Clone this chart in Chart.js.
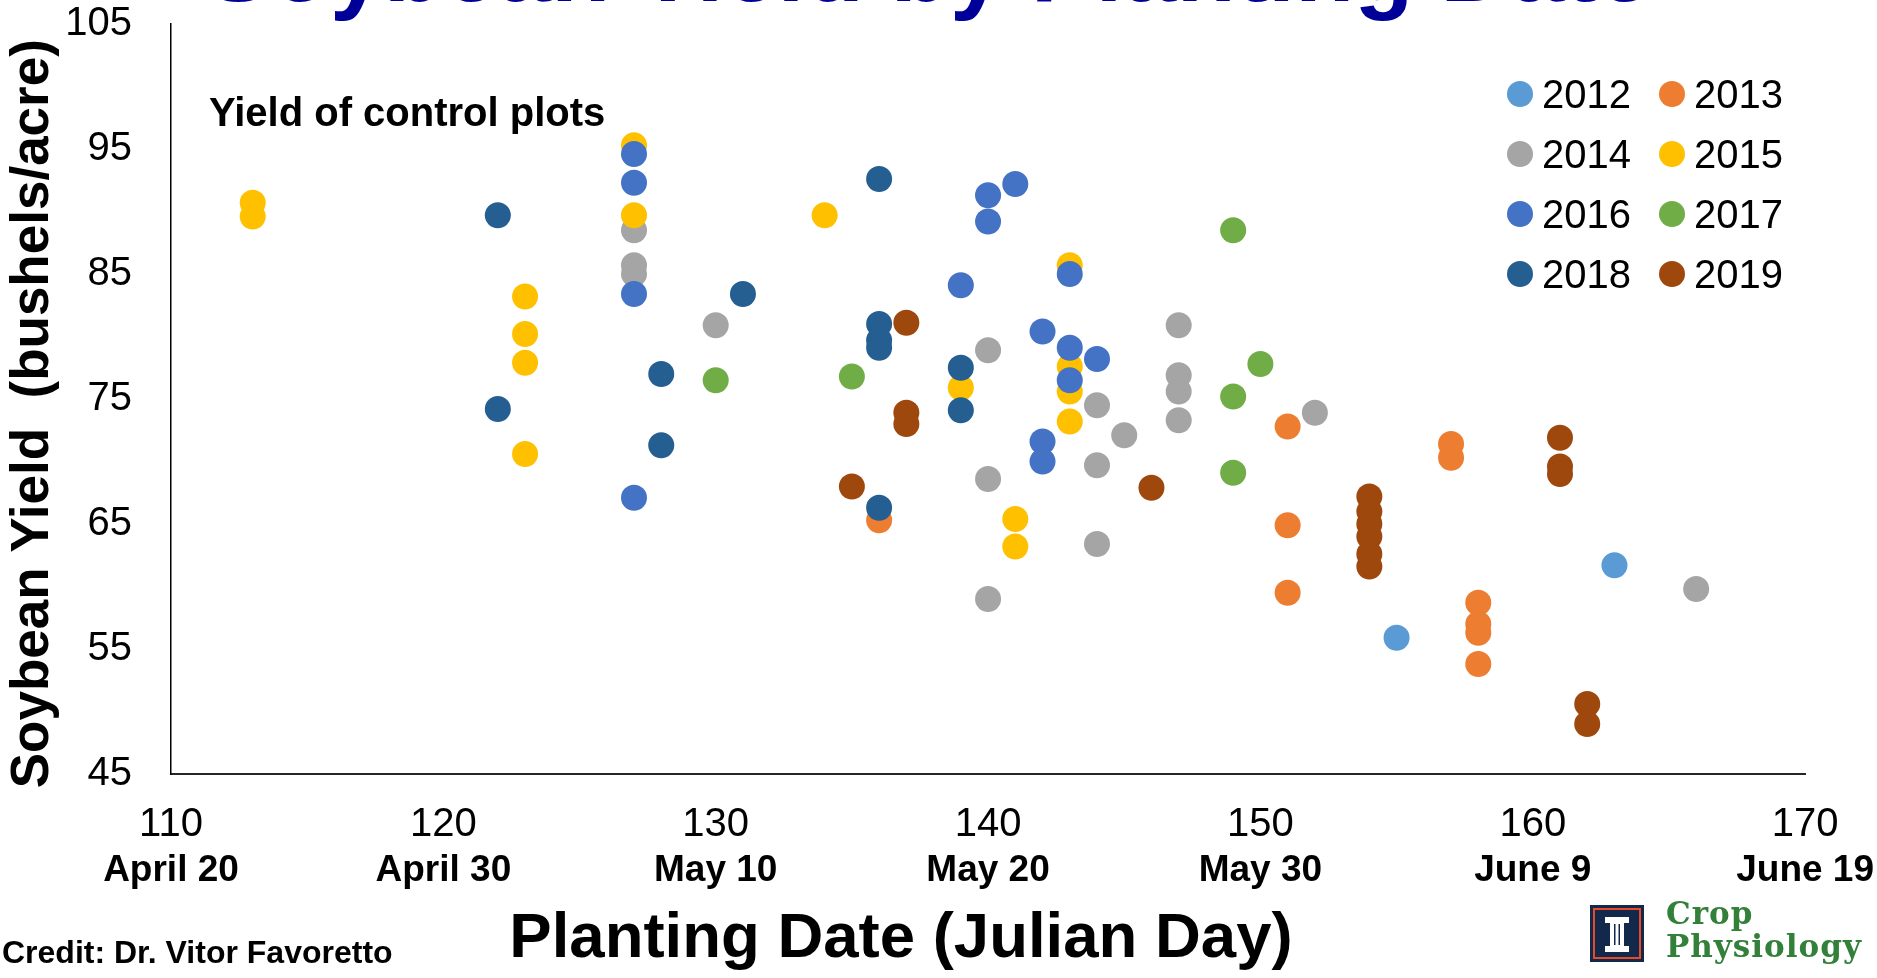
<!DOCTYPE html>
<html>
<head>
<meta charset="utf-8">
<title>Soybean Yield by Planting Date</title>
<script src="https://cdn.jsdelivr.net/npm/chart.js@4.4.1/dist/chart.umd.min.js"></script>
<style>
  html, body { margin: 0; padding: 0; background: #fff; overflow: hidden; }
  body { width: 1877px; height: 978px; position: relative; font-family: "Liberation Sans", Arial, sans-serif; color: #000; }
  #chart { position: absolute; left: 0; top: 0; }
  .txt { position: absolute; white-space: nowrap; font-weight: bold; }
  #title { left: 206px; top: -81px; font-size: 97px; line-height: 97px; color: #000099; }
  #note { left: 209px; top: 92px; font-size: 40px; line-height: 40px; }
  #xtitle { left: 901px; top: 904px; font-size: 63.5px; line-height: 63.5px; transform: translateX(-50%); }
  #credit { left: 2px; top: 936px; font-size: 32px; line-height: 32px; }
  #legend { position: absolute; left: 1507px; top: 64px; display: grid; grid-template-columns: 152px 152px; grid-auto-rows: 60px; }
  #legend .item { display: flex; align-items: center; font-size: 40px; line-height: 40px; }
  #legend .dot { width: 26px; height: 26px; border-radius: 50%; margin-right: 9px; flex: none; }
  #logo { position: absolute; left: 1590px; top: 905px; }
  #crop { position: absolute; left: 1666px; top: 897px; font-family: "DejaVu Serif", serif; font-weight: bold; font-size: 31px; line-height: 33px; letter-spacing: 1px; color: #33803a; }
</style>
</head>
<body>
<canvas id="chart" width="1877" height="978"></canvas>
<div id="title" class="txt">Soybean Yield by Planting Date</div>
<div id="note" class="txt">Yield of control plots</div>
<div id="legend"></div>
<div id="xtitle" class="txt">Planting Date (Julian Day)</div>
<div id="credit" class="txt">Credit: Dr. Vitor Favoretto</div>
<svg id="logo" width="54" height="57" viewBox="0 0 54 57">
  <rect width="54" height="57" fill="#13294b"/>
  <rect x="4" y="4" width="46" height="49" fill="none" stroke="#e84a27" stroke-width="2"/>
  <rect x="15" y="12" width="24" height="6" fill="#fff"/>
  <rect x="20" y="18" width="14" height="23" fill="#fff"/>
  <rect x="24" y="19" width="1.5" height="21" fill="#13294b"/>
  <rect x="28.5" y="19" width="1.5" height="21" fill="#13294b"/>
  <rect x="15" y="41" width="24" height="6" fill="#fff"/>
</svg>
<div id="crop">Crop<br>Physiology</div>
<script>
const years = ["2012", "2013", "2014", "2015", "2016", "2017", "2018", "2019"];
const colors = ["#5B9BD5", "#ED7D31", "#A5A5A5", "#FFC000", "#4472C4", "#70AD47", "#255E91", "#9E480E"];

const day2012 = [155, 163];
const yld2012 = [55.9, 61.7];
const day2013 = [136, 151, 151, 151, 157, 157, 158, 158, 158, 158];
const yld2013 = [65.3, 72.8, 64.9, 59.5, 71.4, 70.3, 58.7, 57.0, 56.3, 53.8];
const day2014 = [127, 127, 127, 130, 140, 140, 140, 144, 144, 144, 145, 147, 147, 147, 147, 152, 166];
const yld2014 = [88.5, 85.7, 85.0, 80.9, 78.9, 68.6, 59.0, 74.5, 69.7, 63.4, 72.1, 80.9, 76.9, 75.6, 73.3, 73.9, 59.8];
const day2015 = [113, 113, 123, 123, 123, 123, 127, 127, 134, 139, 141, 141, 143, 143, 143, 143];
const yld2015 = [90.7, 89.6, 83.2, 80.2, 77.9, 70.6, 95.3, 89.7, 89.7, 75.9, 65.4, 63.2, 85.7, 77.6, 75.6, 73.2];
const day2016 = [127, 127, 127, 127, 139, 140, 140, 141, 142, 142, 142, 143, 143, 143, 144];
const yld2016 = [94.6, 92.3, 83.4, 67.1, 84.1, 91.3, 89.2, 92.2, 80.4, 71.6, 70.0, 85.0, 79.1, 76.5, 78.2];
const day2017 = [130, 135, 149, 149, 149, 150];
const yld2017 = [76.5, 76.8, 88.5, 75.2, 69.1, 77.8];
const day2018 = [122, 122, 128, 128, 131, 136, 136, 136, 136, 136, 139, 139];
const yld2018 = [89.7, 74.2, 77.0, 71.3, 83.4, 92.6, 81.0, 79.7, 79.1, 66.3, 77.5, 74.1];
const day2019 = [135, 137, 137, 137, 146, 154, 154, 154, 154, 154, 154, 161, 161, 161, 162, 162];
const yld2019 = [68.0, 81.1, 73.9, 73.0, 67.9, 67.2, 66.0, 65.0, 64.0, 62.6, 61.6, 71.9, 69.6, 69.0, 50.6, 49.0];

const dayTicks = [110, 120, 130, 140, 150, 160, 170];
const dateLabels = ["April 20", "April 30", "May 10", "May 20", "May 30", "June 9", "June 19"];

const series = [
  [day2012, yld2012], [day2013, yld2013], [day2014, yld2014], [day2015, yld2015],
  [day2016, yld2016], [day2017, yld2017], [day2018, yld2018], [day2019, yld2019],
];

Chart.defaults.font.family = "'Liberation Sans', Arial, sans-serif";
Chart.defaults.color = "#000";

// later years are painted on top, like the original
const datasets = years.map((yr, i) => ({
  label: yr,
  data: series[i][0].map((d, k) => ({ x: d, y: series[i][1][k] })),
  backgroundColor: colors[i],
  borderWidth: 0,
  pointRadius: 13,
  pointHoverRadius: 13,
  order: years.length - i,
}));

new Chart(document.getElementById("chart"), {
  type: "scatter",
  data: { datasets },
  options: {
    responsive: false,
    devicePixelRatio: 1,
    animation: false,
    layout: { padding: { top: 24, right: 70, bottom: 0, left: 0 } },
    plugins: { legend: { display: false }, tooltip: { enabled: false } },
    scales: {
      x: {
        type: "linear", position: "bottom", min: dayTicks[0], max: dayTicks[dayTicks.length - 1], weight: 0,
        ticks: { stepSize: 10, padding: 27, font: { size: 40 }, maxRotation: 0, autoSkip: false },
        grid: { display: false, drawTicks: false },
        border: { display: true, color: "#262626", width: 2 },
        afterFit: (s) => { s.height = 72; },
      },
      x2: {
        type: "linear", position: "bottom", min: dayTicks[0], max: dayTicks[dayTicks.length - 1], weight: 1,
        ticks: {
          stepSize: 10, padding: 3, font: { size: 37, weight: "bold" }, maxRotation: 0, autoSkip: false,
          callback: (v) => dateLabels[dayTicks.indexOf(v)],
        },
        grid: { display: false, drawTicks: false },
        border: { display: false },
        afterFit: (s) => { s.height = 132; },
      },
      y: {
        type: "linear", min: 45, max: 105,
        ticks: { stepSize: 10, padding: 39, font: { size: 40 } },
        grid: { display: false, drawTicks: false },
        border: { display: true, color: "#000", width: 1.5 },
        title: {
          // trailing spaces nudge the rotated title down a little, as in the original
          display: true, text: "Soybean Yield  (bushels/acre)  ",
          font: { size: 53, weight: "bold" }, padding: { top: 2, bottom: 0 },
        },
        // tick padding should not push the plot down
        afterFit: (s) => { s.width = 171; s.paddingTop = 0; s.paddingBottom = 0; },
      },
    },
  },
});

const legend = document.getElementById("legend");
years.forEach((yr, i) => {
  const item = document.createElement("div");
  item.className = "item";
  item.innerHTML = `<span class="dot" style="background:${colors[i]}"></span><span>${yr}</span>`;
  legend.appendChild(item);
});
</script>
</body>
</html>
